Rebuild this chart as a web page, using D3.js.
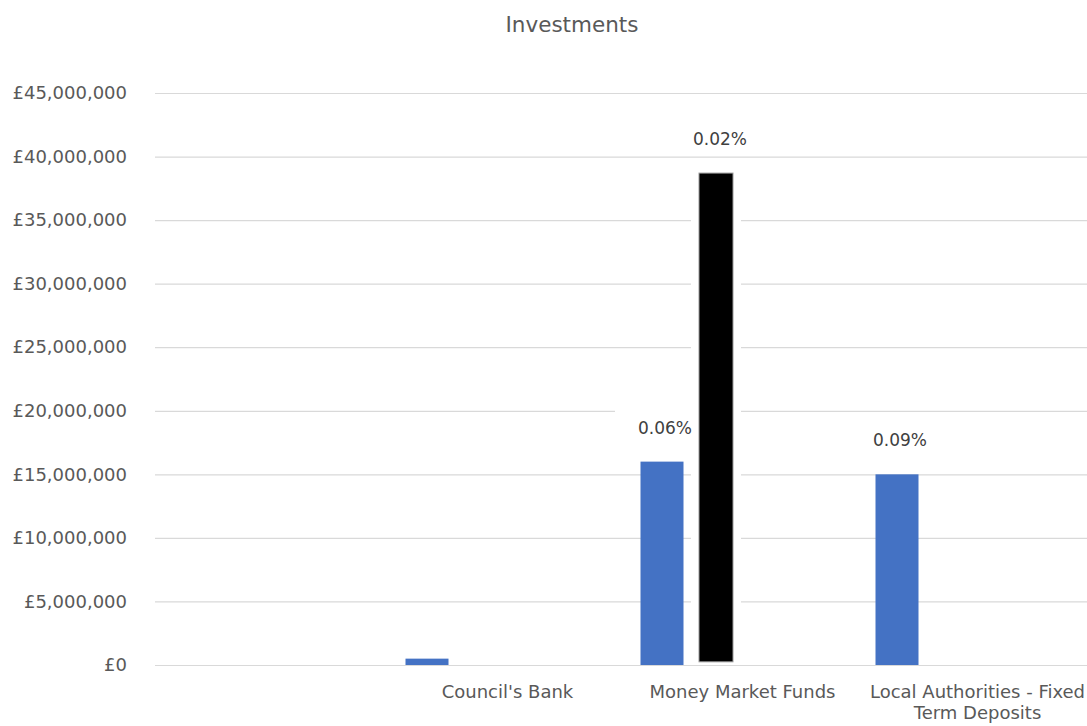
<!DOCTYPE html>
<html>
<head>
<meta charset="utf-8">
<script src="https://cdn.jsdelivr.net/npm/d3@7"></script>
<style>
  html, body { margin: 0; padding: 0; background: #fff; }
  svg { display: block; font-family: "DejaVu Sans", sans-serif; }
</style>
</head>
<body>
<svg id="chart" width="1087" height="726"></svg>
<script>
// data
var categories = ["", "Council's Bank", "Money Market Funds", "Local Authorities - Fixed Term Deposits"];
var balances = [0, 500000, 16000000, 15000000];
var rates = ["", "", "0.06%", "0.09%"];
// the black bar that sits beside Money Market Funds
var extraCategory = ["Money Market Funds"];
var extraLow = [250000];
var extraHigh = [38700000];
var extraRate = ["0.02%"];
var yTicks = [0, 5000000, 10000000, 15000000, 20000000, 25000000, 30000000, 35000000, 40000000, 45000000];

var svg = d3.select('#chart');
var m = {left: 155, right: -8, top: 93, bottom: 61};
var W = 1087, H = 726;

var x = d3.scaleBand()
    .domain(categories)
    .range([m.left, W - m.right]);

// position of the two bars inside a category band
var slot = d3.scalePoint()
    .domain(['blue', 'black'])
    .range([37, 91]);

var y = d3.scaleLinear()
    .domain([0, 45000000])
    .range([H - m.bottom, m.top]);

// title
svg.append('text')
    .attr('x', 572).attr('y', 32)
    .attr('text-anchor', 'middle')
    .attr('fill', '#595959')
    .style('font-size', '21.5px')
    .text('Investments');

// grid + y labels
var yAxis = svg.append('g')
    .attr('transform', 'translate(' + m.left + ',0)')
    .call(d3.axisLeft(y)
        .tickValues(yTicks)
        .tickSize(-(W - m.right - m.left))
        .tickPadding(28)
        .tickFormat(function (d) { return '£' + d3.format(',')(d); }));

yAxis.select('.domain').remove();
yAxis.selectAll('.tick line').attr('stroke', '#d9d9d9').attr('stroke-width', 1.2);
yAxis.selectAll('.tick text')
    .attr('fill', '#595959')
    .style('font-size', '18px')
    .style('font-family', '"DejaVu Sans", sans-serif');

// category labels
var xAxis = svg.append('g')
    .attr('transform', 'translate(0,' + (H - m.bottom) + ')')
    .call(d3.axisBottom(x).tickSize(0).tickPadding(20));

xAxis.select('.domain').remove();
xAxis.selectAll('.tick text')
    .attr('fill', '#595959')
    .style('font-size', '18px')
    .style('font-family', '"DejaVu Sans", sans-serif')
    .call(wrap, 250);

function wrap(texts, width) {
    texts.each(function () {
        var text = d3.select(this),
            words = text.text().split(/\s+/).reverse(),
            word,
            line = [],
            lineNo = 0,
            ty = text.attr('y'),
            dy = parseFloat(text.attr('dy')),
            tspan = text.text(null).append('tspan').attr('x', 0).attr('y', ty).attr('dy', dy + 'em');
        while ((word = words.pop())) {
            line.push(word);
            tspan.text(line.join(' '));
            if (tspan.node().getComputedTextLength() > width && line.length > 1) {
                line.pop();
                tspan.text(line.join(' '));
                line = [word];
                tspan = text.append('tspan').attr('x', 0).attr('y', ty)
                    .attr('dy', (++lineNo * 1.2 + dy) + 'em').text(word);
            }
        }
    });
}

var barW = 43, extraW = 34;

// blue bars
var rows = categories.map(function (c, i) {
    return {cat: c, value: balances[i], rate: rates[i]};
});

svg.append('g').selectAll('rect')
    .data(rows.filter(function (d) { return d.value > 0; }))
    .join('rect')
    .attr('x', function (d) { return x(d.cat) + slot('blue') - barW / 2; })
    .attr('y', function (d) { return y(d.value); })
    .attr('width', barW)
    .attr('height', function (d) { return y(0) - y(d.value); })
    .attr('fill', '#4472c4');

var extras = extraCategory.map(function (c, i) {
    return {cat: c, low: extraLow[i], high: extraHigh[i], rate: extraRate[i]};
});

// data labels (white boxes first, text later)
var labels = rows.filter(function (d) { return d.rate; })
    .map(function (d) { return {cx: x(d.cat) + slot('blue') + 3, top: y(d.value), rate: d.rate}; })
    .concat(extras.map(function (d) { return {cx: x(d.cat) + slot('black') + 4, top: y(d.high), rate: d.rate}; }));

function labelPos(d) { return 'translate(' + d.cx + ',' + (d.top - 28) + ')'; }

svg.append('g').selectAll('rect')
    .data(labels)
    .join('rect')
    .attr('transform', labelPos)
    .attr('x', -50).attr('y', -28)
    .attr('width', 86).attr('height', 31)
    .attr('fill', '#fff');

// black bar with its white surround
var eg = svg.append('g');
eg.selectAll('rect.pad')
    .data(extras)
    .join('rect')
    .attr('class', 'pad')
    .attr('x', function (d) { return x(d.cat) + slot('black') - extraW / 2 - 8; })
    .attr('y', function (d) { return y(d.high) - 4; })
    .attr('width', extraW + 16)
    .attr('height', function (d) { return y(d.low) - y(d.high) + 4; })
    .attr('fill', '#fff');

eg.selectAll('rect.bar')
    .data(extras)
    .join('rect')
    .attr('class', 'bar')
    .attr('x', function (d) { return x(d.cat) + slot('black') - extraW / 2; })
    .attr('y', function (d) { return y(d.high); })
    .attr('width', extraW)
    .attr('height', function (d) { return y(d.low) - y(d.high); })
    .attr('fill', '#000')
    .attr('stroke', '#999')
    .attr('stroke-width', 1);

svg.append('g').selectAll('text')
    .data(labels)
    .join('text')
    .attr('transform', labelPos)
    .attr('text-anchor', 'middle')
    .attr('fill', '#404040')
    .style('font-size', '17px')
    .text(function (d) { return d.rate; });
</script>
</body>
</html>
